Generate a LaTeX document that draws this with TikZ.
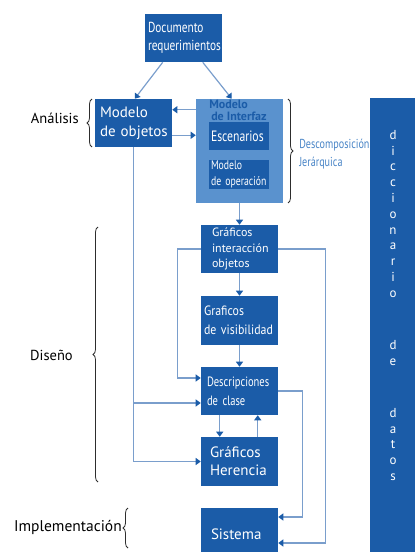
\documentclass[tikz,border=0pt]{standalone}
\usepackage{fontspec}
\setmainfont{PT Sans}
\setsansfont{PT Sans}
\newfontfamily\condfont[FakeStretch=0.78]{PT Sans}
\newfontfamily\semifont[FakeStretch=0.88]{PT Sans}
\usetikzlibrary{arrows.meta,decorations.pathreplacing}
\newdimen\pxu \pxu=0.75pt
\definecolor{boxblue}{RGB}{27,92,168}
\definecolor{paleblue}{RGB}{90,146,206}
\definecolor{linecol}{RGB}{122,158,204}
\definecolor{notecol}{RGB}{72,132,198}
\definecolor{bracecol}{RGB}{45,45,45}
\newcommand\fsz[2]{\fontsize{#1\pxu}{#2\pxu}\selectfont}
\hyphenpenalty=10000
\exhyphenpenalty=10000

\begin{document}
\begin{tikzpicture}[x=0.75pt,y=-0.75pt,
  box/.style={fill=boxblue, text=white, inner ysep=0pt, minimum height=48\pxu, align=left},
  innerbox/.style={fill=boxblue, text=white, inner ysep=0pt, align=left},
  letters/.style={text=white, anchor=north, align=center, inner sep=0pt, font=\fsz{13}{15.8}},
  link/.style={draw=linecol, line width=0.9pt, -{Triangle[length=3.75pt,width=5.25pt,color=boxblue]}},
  wire/.style={draw=linecol, line width=0.9pt},
  curly/.style={decorate, decoration={brace, amplitude=3.75pt}, draw=bracecol, line width=0.6pt},
  sidelabel/.style={text=black, inner sep=0pt, font=\fsz{14.5}{17}}
]
\clip (0,0) rectangle (415,552);

% data dictionary column
\node[fill=boxblue, minimum width=45\pxu, minimum height=454\pxu, inner sep=0pt, anchor=north west] (dict) at (370,98) {};
\node[letters] (dictw1) at (393,130) {d\\i\\c\\c\\i\\o\\n\\a\\r\\i\\o};
\node[letters] (dictw2) at (393,340) {d\\e};
\node[letters] (dictw3) at (393,408) {d\\a\\t\\o\\s};

% analysis boxes
\node[box, inner xsep=3\pxu, text width=71\pxu, font=\condfont\fsz{14.5}{18}] (doc) at (183.5,38) {Documento\\requerimientos};
\node[box, inner xsep=5\pxu, text width=67\pxu, font=\fsz{15}{19}] (obj) at (133.5,123) {Modelo\\de~objetos};
\node[fill=paleblue, minimum width=87\pxu, minimum height=104\pxu, inner sep=0pt] (intf) at (239.5,151) {};
\node[innerbox, minimum height=28\pxu, inner xsep=2\pxu, text width=56\pxu, font=\condfont\fsz{15}{16}] (esc) at (239,136) {Escenarios};
\node[innerbox, minimum height=29\pxu, inner xsep=2\pxu, text width=56\pxu, font=\condfont\fsz{12.5}{16}] (oper) at (239,174.5) {Modelo\\de~operación};
\node[text=boxblue, anchor=north west, inner sep=0pt, align=left, font=\bfseries\fsz{12}{12}] (intftitle) at (209,100) {Modelo\\\hspace*{2\pxu}de~Interfaz};

% design boxes
\node[box, inner xsep=11\pxu, text width=55\pxu, font=\fsz{12}{15.5}] (inter) at (239.5,249) {Gráficos\\interacción\\objetos};
\node[box, minimum height=49\pxu, inner xsep=3\pxu, text width=71\pxu, font=\semifont\fsz{13.5}{19}] (vis) at (239.5,320.5) {Graficos\\de~visibilidad};
\node[box, inner xsep=6\pxu, text width=65\pxu, font=\condfont\fsz{13.5}{19}] (desc) at (239.5,391) {Descripciones\\de~clase};
\node[box, minimum height=49\pxu, inner xsep=9\pxu, text width=59\pxu, font=\fsz{15}{18}] (her) at (239.5,461.5) {Gráficos\\Herencia};

% implementation
\node[box, minimum height=52\pxu, inner xsep=10\pxu, text width=57\pxu, font=\fsz{15}{18}] (sis) at (239.5,534) {Sistema};

% phase labels and braces
\node[sidelabel, anchor=east] (lanalisis) at (79,118) {Análisis};
\node[sidelabel, anchor=east] (ldiseno) at (73,355) {Diseño};
\node[sidelabel, anchor=east, font=\fsz{15.5}{17}] (limpl) at (122,527) {Implementación};
\node[text=notecol, anchor=west, inner sep=0pt, align=left, font=\condfont\fsz{13}{18}] (ldesc) at (299,154) {Descomposición\\Jerárquica};

\draw[curly] (92,147) -- (92,99);
\draw[curly] (288,99) -- (288,203);
\draw[curly] (98,482) -- (98,227);
\draw[curly] (128,548) -- (128,508);

% connectors
\draw[link] ([xshift=18\pxu]doc.south west) -- ([xshift=40\pxu]obj.north west);
\draw[link] ([xshift=58\pxu]doc.south west) -- ([xshift=36\pxu]intf.north west);
\draw[link] ([yshift=-11\pxu]intf.north west) -- ([yshift=-11\pxu]obj.north east);
\coordinate (oi) at ([yshift=12\pxu]obj.south east);
\draw[link] (oi) -- (oi -| intf.west);
\draw[link] (intf.south) -- (inter.north);
\draw[link] (inter.south) -- (vis.north);
\draw[link] (vis.south) -- (desc.north);
\draw[link] ([xshift=19\pxu]desc.south west) -- ([xshift=19\pxu]her.north west);
\draw[link] ([xshift=57\pxu]her.north west) -- ([xshift=57\pxu]desc.south west);

\coordinate (dlow) at ([yshift=-12\pxu]desc.west);
\coordinate (dup) at ([yshift=13\pxu]desc.west);
\coordinate (shigh) at ([yshift=17\pxu]sis.east);
\coordinate (slow) at ([yshift=-9\pxu]sis.east);

\draw[wire] (obj.south) -- (obj.south |- her.west);
\draw[link] (obj.south |- dlow) -- (dlow);
\draw[link] (obj.south |- her.west) -- (her.west);
\draw[link] (inter.west) -- ++(-23,0) |- (dup);
\draw[link] (inter.east) -- ++(47,0) |- (slow);
\draw[link] (desc.east) -- ++(24,0) |- (shigh);
\end{tikzpicture}
\end{document}
